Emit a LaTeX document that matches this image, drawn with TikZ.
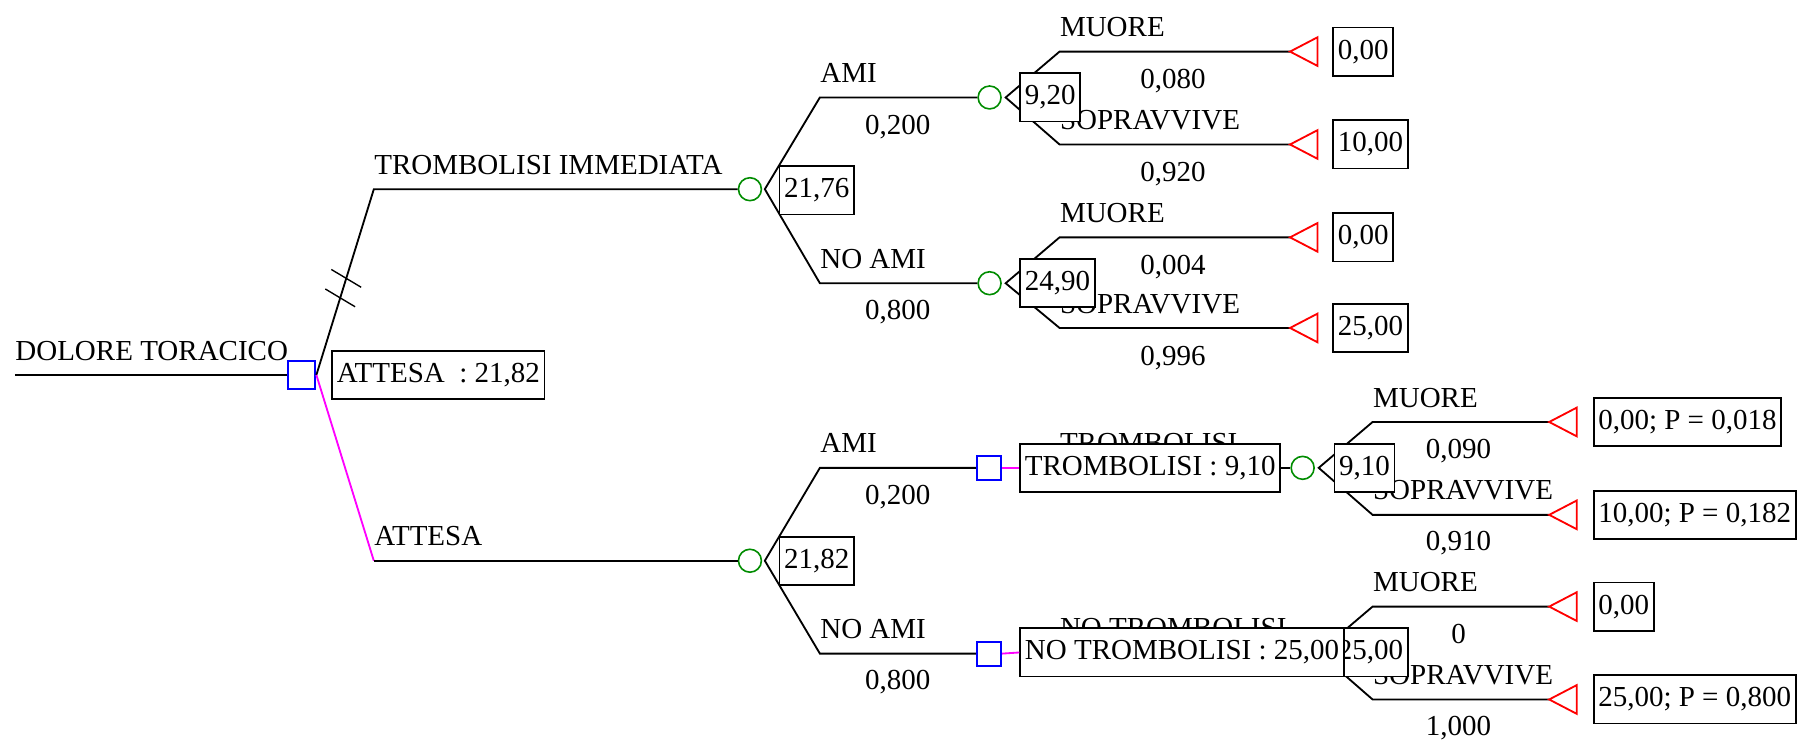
\documentclass[tikz,border=0pt]{standalone}
\usepackage{fontspec}
\setmainfont{Liberation Serif}
\definecolor{cgreen}{RGB}{0,140,0}
\definecolor{cblue}{RGB}{0,0,255}
\definecolor{cred}{RGB}{255,0,0}
\definecolor{cmag}{RGB}{255,0,255}
\begin{document}
\begin{tikzpicture}[x=0.5pt,y=-0.5pt,
  every node/.style={font=\fontsize{12.65pt}{15pt}\selectfont},
  ln/.style={line width=0.8pt, black},
  slash/.style={line width=0.6pt, black},
  dec/.style={draw=cblue, line width=0.9pt, rectangle, minimum size=12pt, inner sep=0pt},
  dectwo/.style={draw=cblue, line width=0.9pt, rectangle, minimum size=10.5pt, inner sep=0pt},
  chn/.style={draw=cgreen, circle, line width=0.7pt, minimum size=10pt, inner sep=0pt},
  vbox/.style={draw, fill=white, line width=0.8pt, inner xsep=2pt, inner ysep=0pt, minimum height=21pt, anchor=west},
  lbl/.style={anchor=base west, inner sep=0pt},
  prb/.style={anchor=base, inner sep=0pt},
  term/.style={draw=cred, line width=0.8pt, line join=miter},
  pol/.style={line width=0.8pt, cmag}
]
\useasboundingbox (0,0) rectangle (1568,646);

% ---------- decision / chance nodes and corner coordinates ----------
\coordinate (r0) at (13,327);
\node[dec] (d0) at (263,327) {};
\coordinate (k1) at (326,165);
\coordinate (k2) at (326,489);
\node[chn] (c1) at (654,165) {};
\node[chn] (c4) at (654,489) {};

\coordinate (o1) at (667,165);
\coordinate (k3) at (715,85);
\coordinate (k4) at (715,247);
\node[chn] (c2) at (863,85) {};
\node[chn] (c3) at (863,247) {};

\coordinate (o2) at (877,85);
\coordinate (k5) at (924,45);
\coordinate (k6) at (924,126);
\coordinate (t1) at (1125,45);
\coordinate (t2) at (1125,126);

\coordinate (o3) at (877,247);
\coordinate (k7) at (924,207);
\coordinate (k8) at (924,286);
\coordinate (t3) at (1125,207);
\coordinate (t4) at (1125,286);

\coordinate (o4) at (667,489);
\coordinate (k9) at (715,408);
\coordinate (k10) at (715,570);
\node[dectwo] (d1) at (862.5,408) {};
\node[dectwo] (d2) at (862.5,570) {};

\node[chn] (c5) at (1136,408) {};
\coordinate (o5) at (1150,408);
\coordinate (k11) at (1197,368);
\coordinate (k12) at (1197,449);
\coordinate (t5) at (1351,368);
\coordinate (t6) at (1351,449);

\coordinate (o6) at (1150,569);
\coordinate (k13) at (1197,529);
\coordinate (k14) at (1197,610);
\coordinate (t7) at (1351,529);
\coordinate (t8) at (1351,610);

% ---------- branches ----------
\draw[ln] (r0) -- (d0.west);
\draw[ln] (d0.east) -- (k1) -- (c1.west);
\path (d0.east) -- (k1) coordinate[pos=0.52] (s1) coordinate[pos=0.415] (s2);
\draw[slash] (s1) ++(-13,-7.75) -- ++(26,15.5);
\draw[slash] (s2) ++(-13,-7.75) -- ++(26,15.5);
\draw[pol] (d0.east) -- (k2);
\draw[ln] (k2) -- (c4.west);

\draw[ln] (c2.west) -- (k3) -- (o1) -- (k4) -- (c3.west);
\draw[ln] (t1) -- (k5) -- (o2) -- (k6) -- (t2);
\draw[ln] (t3) -- (k7) -- (o3) -- (k8) -- (t4);
\draw[ln] (d1.west) -- (k9) -- (o4) -- (k10) -- (d2.west);
\draw[ln] (t5) -- (k11) -- (o5) -- (k12) -- (t6);
\draw[ln] (t7) -- (k13) -- (o6) -- (k14) -- (t8);

% ---------- terminal triangles ----------
\foreach \t in {t1,t2,t3,t4,t5,t6,t7,t8}
  \draw[term] (\t) -- ++(24,-12.5) -- ++(0,25) -- cycle;

% ---------- branch labels ----------
\node[lbl] (ldol) at (13,314) {DOLORE TORACICO};
\node[lbl] (ltri) at (326,152) {TROMBOLISI IMMEDIATA};
\node[lbl] (latt) at (326,476) {ATTESA};

\node[lbl] (lami1) at (715,72) {AMI};
\node[prb] (pami1) at (783,117) {0,200};
\node[lbl] (lnoa1) at (715,234) {NO AMI};
\node[prb] (pnoa1) at (783,279) {0,800};

\node[lbl] (lmu1) at (924,32) {MUORE};
\node[prb] (pmu1) at (1023,77) {0,080};
\node[lbl] (lso1) at (924,113) {SOPRAVVIVE};
\node[prb] (pso1) at (1023,158) {0,920};

\node[lbl] (lmu2) at (924,194) {MUORE};
\node[prb] (pmu2) at (1023,239) {0,004};
\node[lbl] (lso2) at (924,273) {SOPRAVVIVE};
\node[prb] (pso2) at (1023,319) {0,996};

\node[lbl] (lami2) at (715,395) {AMI};
\node[prb] (pami2) at (783,440) {0,200};
\node[lbl] (lnoa2) at (715,557) {NO AMI};
\node[prb] (pnoa2) at (783,601) {0,800};

\node[lbl] (ltr2) at (924,395) {TROMBOLISI};
\node[lbl] (lntr) at (924,556) {NO TROMBOLISI};

\node[lbl] (lmu3) at (1197,355) {MUORE};
\node[prb] (pmu3) at (1272,400) {0,090};
\node[lbl] (lso3) at (1197,436) {SOPRAVVIVE};
\node[prb] (pso3) at (1272,480) {0,910};

\node[lbl] (lmu4) at (1197,516) {MUORE};
\node[prb] (pmu4) at (1272,561) {0};
\node[lbl] (lso4) at (1197,597) {SOPRAVVIVE};
\node[prb] (pso4) at (1272,641) {1,000};

% ---------- value boxes ----------
\node[vbox] (vatt) at (289,327) {ATTESA\ \ : 21,82};
\node[vbox] (v1) at (679,166) {21,76};
\node[vbox] (v2) at (889,85) {9,20};
\node[vbox] (v3) at (889,247) {24,90};
\node[vbox] (v4) at (679,489) {21,82};
\node[vbox] (v6) at (1163,408) {9,10};
\node[vbox] (v8) at (1162,569) {25,00};
\node[vbox] (v5) at (889,408) {TROMBOLISI : 9,10};
\node[vbox] (v7) at (889,569) {NO TROMBOLISI : 25,00};

\node[vbox] (e1) at (1162,45) {0,00};
\node[vbox] (e2) at (1162,126) {10,00};
\node[vbox] (e3) at (1162,207) {0,00};
\node[vbox] (e4) at (1162,286) {25,00};
\node[vbox] (e5) at (1389,368) {0,00; P = 0,018};
\node[vbox] (e6) at (1389,449) {10,00; P = 0,182};
\node[vbox] (e7) at (1389,529) {0,00};
\node[vbox] (e8) at (1389,610) {25,00; P = 0,800};

% ---------- links to boxes ----------
\draw[pol] (d1.east) -- (v5.west);
\draw[pol] (d2.east) -- (v7.west);
\draw[ln] (v5.east) -- (c5.west);
\end{tikzpicture}
\end{document}
